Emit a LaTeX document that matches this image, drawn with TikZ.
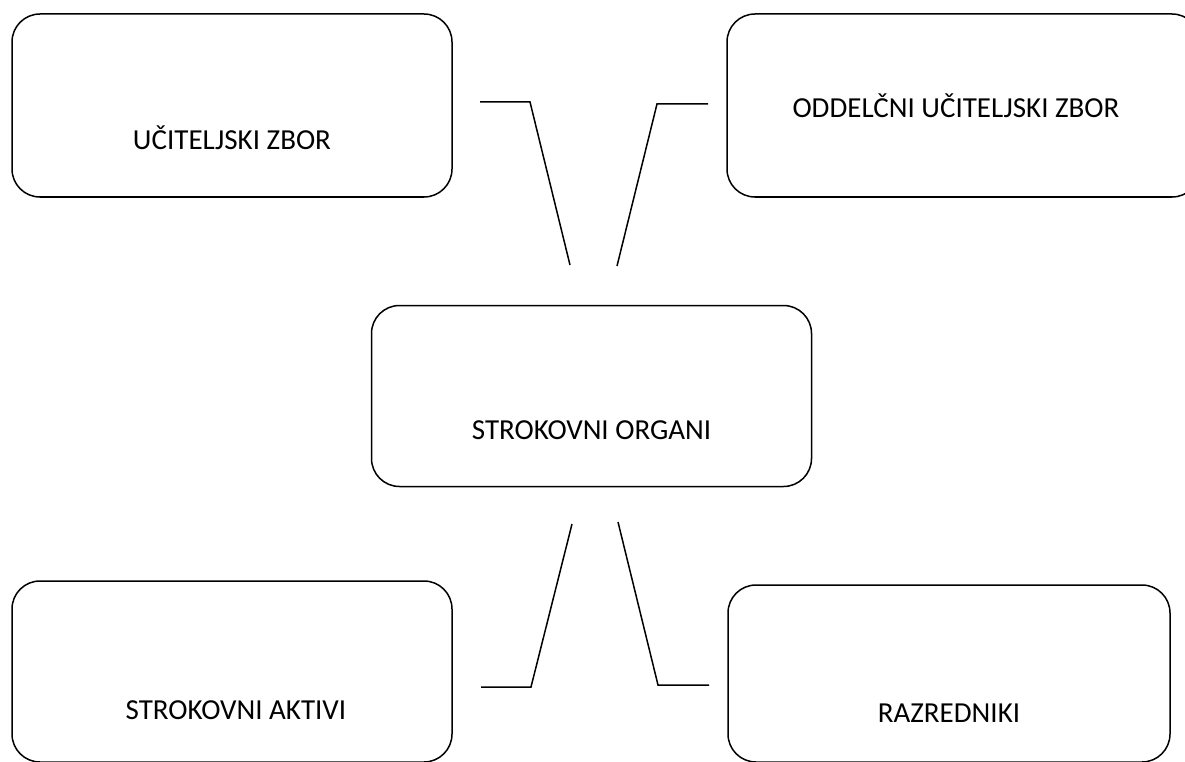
\documentclass[tikz,border=0pt]{standalone}
\usepackage{fontspec}
\setmainfont{Carlito}
\begin{document}
\begin{tikzpicture}[x=1pt, y=-1pt,
  organ/.style={rectangle, draw, rounded corners=28pt, line width=1.5pt, inner sep=0pt},
  organtext/.style={font=\fontsize{29}{34}\selectfont},
  link/.style={line width=1.5pt}]
\clip (0,0) rectangle (1185,762);
\draw (232,105.5) node(ucitelji) [organ, minimum width=440pt, minimum height=183pt,
  label={[organtext, yshift=-32.6pt]center:UČITELJSKI ZBOR}] {};
\draw (963.5,105.5) node(oddelcni) [organ, minimum width=473pt, minimum height=183pt,
  label={[organtext, xshift=-7.5pt, yshift=-0.6pt]center:ODDELČNI UČITELJSKI ZBOR}] {};
\draw (591.5,396) node(organi) [organ, minimum width=440pt, minimum height=181pt,
  label={[organtext, yshift=-34.6pt]center:STROKOVNI ORGANI}] {};
\draw (232,671.5) node(aktivi) [organ, minimum width=440pt, minimum height=181pt,
  label={[organtext, xshift=4pt, yshift=-39.1pt]center:STROKOVNI AKTIVI}] {};
\draw (949,673.5) node(razredniki) [organ, minimum width=442pt, minimum height=177pt,
  label={[organtext, yshift=-40.1pt]center:RAZREDNIKI}] {};
% free ends of the links
\coordinate (ucitelji-a) at (480,102);
\coordinate (ucitelji-b) at (530,102);
\coordinate (ucitelji-c) at (570,265);
\coordinate (oddelcni-a) at (708,104);
\coordinate (oddelcni-b) at (657,104);
\coordinate (oddelcni-c) at (617,266);
\coordinate (aktivi-a) at (572,524);
\coordinate (aktivi-b) at (531,687);
\coordinate (aktivi-c) at (481,687);
\coordinate (razredniki-a) at (618,522);
\coordinate (razredniki-b) at (658,685);
\coordinate (razredniki-c) at (709,685);
\draw[link] (ucitelji-a) -- (ucitelji-b) -- (ucitelji-c);
\draw[link] (oddelcni-a) -- (oddelcni-b) -- (oddelcni-c);
\draw[link] (aktivi-a) -- (aktivi-b) -- (aktivi-c);
\draw[link] (razredniki-a) -- (razredniki-b) -- (razredniki-c);
\end{tikzpicture}
\end{document}
